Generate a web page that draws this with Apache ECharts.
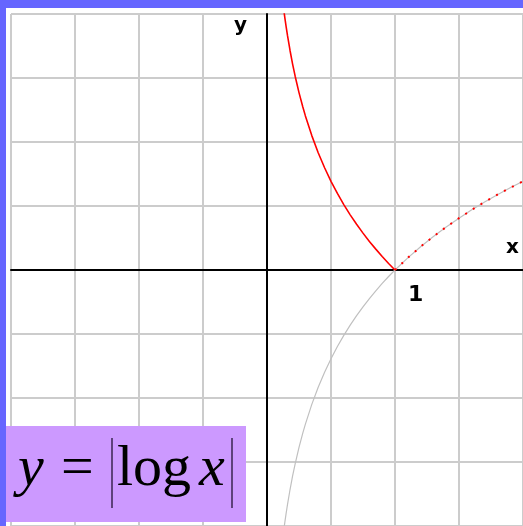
<!DOCTYPE html>
<html>
<head>
<meta charset="utf-8">
<script src="https://cdn.jsdelivr.net/npm/echarts@6/dist/echarts.min.js"></script>
<style>
html,body{margin:0;padding:0;background:#6666ff;width:523px;height:526px;overflow:hidden;}
#chart{position:absolute;left:6px;top:8px;width:517px;height:518px;background:#ffffff;}
</style>
</head>
<body>
<div id="chart"></div>
<script>
// x values of the branch 0 < x <= 1
var xLeft = [0.13,0.14,0.15,0.16,0.18,0.2,0.22,0.25,0.28,0.3,0.35,0.4,0.45,0.5,0.55,0.6,0.65,0.7,0.75,0.8,0.85,0.9,0.95,1.0];
// |log x| on that branch (red, above the axis)
var yAbsLeft = [2.040,1.966,1.897,1.833,1.715,1.609,1.514,1.386,1.273,1.204,1.050,0.916,0.799,0.693,0.598,0.511,0.431,0.357,0.288,0.223,0.163,0.105,0.051,0];
// log x on that branch (grey, below the axis)
var yLogLeft = [-2.040,-1.966,-1.897,-1.833,-1.715,-1.609,-1.514,-1.386,-1.273,-1.204,-1.050,-0.916,-0.799,-0.693,-0.598,-0.511,-0.431,-0.357,-0.288,-0.223,-0.163,-0.105,-0.051,0];
// branch x >= 1
var xRight = [1.0,1.1,1.2,1.3,1.4,1.5,1.6,1.7,1.8,1.9,2.0];
var yRight = [0,0.095,0.182,0.262,0.336,0.405,0.470,0.531,0.588,0.642,0.693];
// tick labels shown on the x axis
var xTickLabels = [1];

function pairs(xs, ys){ return xs.map(function(x,i){ return [x, ys[i]]; }); }

var chart = echarts.init(document.getElementById('chart'));
var gridColor = '#cccccc';
chart.setOption({
  animation:false,
  grid:{left:5, top:6, width:512, height:512, containLabel:false, outerBoundsMode:'none'},
  xAxis:{
    type:'value', min:-2, max:2, interval:0.5,
    axisLine:{onZero:true, lineStyle:{color:'#000', width:2}},
    axisTick:{show:false},
    axisLabel:{show:false},
    splitLine:{show:true, lineStyle:{color:gridColor, width:2}}
  },
  yAxis:{
    type:'value', min:-2, max:2, interval:0.5,
    axisLine:{onZero:true, lineStyle:{color:'#000', width:2}},
    axisTick:{show:false},
    axisLabel:{show:false},
    splitLine:{show:true, lineStyle:{color:gridColor, width:2}}
  },
  series:[
    {type:'line', data:pairs(xLeft,yLogLeft).concat(pairs(xRight,yRight).slice(1)), showSymbol:false, smooth:false,
     lineStyle:{color:'#c0c0c0', width:1.2}, z:2},
    {type:'line', data:pairs(xLeft,yAbsLeft), showSymbol:false, smooth:false,
     lineStyle:{color:'#ff0000', width:1.6}, z:3},
    {type:'line', data:pairs(xRight,yRight), showSymbol:false, smooth:false,
     lineStyle:{color:'#ff0000', width:2, type:[2,7]}, z:3}
  ]
});

var graphics = [
  {type:'text', x:228, y:18, style:{text:'y', fill:'#000', font:'bold 20px "DejaVu Sans"', verticalAlign:'middle'}, z:50},
  {type:'text', x:500, y:240, style:{text:'x', fill:'#000', font:'bold 20px "DejaVu Sans"', verticalAlign:'middle'}, z:50},
  {type:'rect', shape:{x:0, y:418, width:240, height:96}, style:{fill:'#cc99ff'}, z:100},
  {type:'text', x:12, y:462, style:{text:'y', fill:'#000', font:'italic 58px "Liberation Serif"', verticalAlign:'middle'}, z:101},
  {type:'text', x:55, y:462, style:{text:'=', fill:'#000', font:'58px "Liberation Serif"', verticalAlign:'middle'}, z:101},
  {type:'text', x:111, y:462, style:{text:'log', fill:'#000', font:'58px "Liberation Serif"', verticalAlign:'middle'}, z:101},
  {type:'text', x:193, y:462, style:{text:'x', fill:'#000', font:'italic 58px "Liberation Serif"', verticalAlign:'middle'}, z:101},
  {type:'line', shape:{x1:106, y1:430, x2:106, y2:500}, style:{stroke:'#3a2450', lineWidth:1.5}, z:101},
  {type:'line', shape:{x1:226, y1:430, x2:226, y2:500}, style:{stroke:'#3a2450', lineWidth:1.5}, z:101}
];
xTickLabels.forEach(function(v){
  var p = chart.convertToPixel({xAxisIndex:0, yAxisIndex:0}, [v, 0]);
  graphics.push({type:'text', x:p[0]+13, y:p[1]+25, style:{text:String(v), fill:'#000', font:'bold 22px "DejaVu Sans"', verticalAlign:'middle'}, z:50});
});
chart.setOption({graphic:graphics});
</script>
</body>
</html>
